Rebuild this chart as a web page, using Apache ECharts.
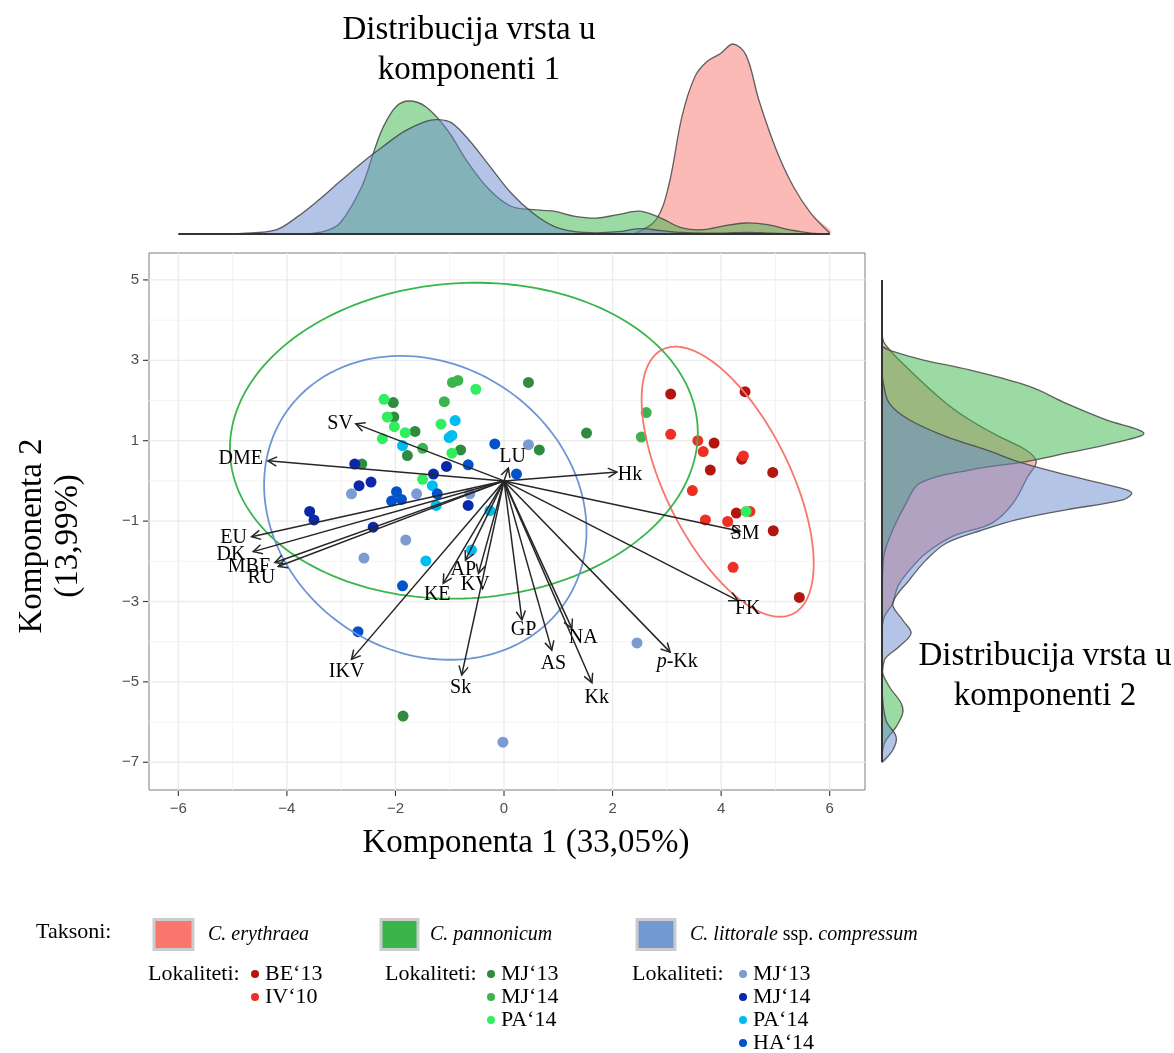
<!DOCTYPE html>
<html><head><meta charset="utf-8">
<script src="https://cdn.jsdelivr.net/npm/echarts@6/dist/echarts.min.js"></script>
<style>html,body{margin:0;padding:0;background:#fff}#c{width:1174px;height:1053px}</style>
</head><body><div id="c"></div>
<script>
// ---------- DATA ----------
const xTicks = [-6, -4, -2, 0, 2, 4, 6];
const yTicks = [-7, -5, -3, -1, 1, 3, 5];
const xMinor = [-5, -3, -1, 1, 3, 5];
const yMinor = [-6, -4, -2, 0, 2, 4];

// C. erythraea
const ceBE13 = [[3.07,2.16],[4.44,2.22],[3.87,0.94],[4.38,0.54],[3.80,0.27],[4.95,0.21],[4.28,-0.80],[4.96,-1.24],[5.44,-2.90]];
const ceIV10 = [[3.07,1.16],[3.57,1.00],[3.67,0.73],[4.41,0.62],[3.47,-0.24],[4.53,-0.76],[3.71,-0.97],[4.12,-1.01],[4.22,-2.15]];
// C. pannonicum
const cpMJ13 = [[0.45,2.45],[1.52,1.19],[0.65,0.77],[-2.04,1.95],[-2.03,1.59],[-1.64,1.23],[-1.78,0.63],[-0.80,0.77],[-2.62,0.42],[-1.86,-5.85]];
const cpMJ14 = [[-0.95,2.45],[-0.85,2.50],[2.62,1.70],[2.53,1.09],[-1.50,0.81],[-1.10,1.97]];
const cpPA14 = [[-0.52,2.28],[-2.21,2.03],[-2.15,1.59],[-2.02,1.35],[-1.82,1.20],[-1.16,1.41],[-2.24,1.05],[-0.96,0.69],[-1.50,0.04],[4.46,-0.76]];
// C. littorale ssp. compressum
const clMJ13 = [[0.45,0.90],[-2.81,-0.32],[-1.61,-0.32],[-0.63,-0.32],[-1.81,-1.47],[-2.58,-1.92],[2.45,-4.03],[-0.02,-6.50]];
const clMJ14 = [[-2.75,0.42],[-1.06,0.36],[-1.30,0.17],[-2.67,-0.12],[-2.45,-0.03],[-0.66,-0.61],[-3.58,-0.76],[-3.50,-0.97],[-2.41,-1.15]];
const clPA14 = [[-0.90,1.50],[-1.01,1.08],[-0.96,1.13],[-1.87,0.88],[-1.32,-0.12],[-1.25,-0.61],[-0.26,-0.74],[-1.44,-1.99],[-0.60,-1.72]];
const clHA14 = [[-0.17,0.92],[0.23,0.17],[-0.66,0.40],[-1.98,-0.27],[-2.07,-0.50],[-1.89,-0.46],[-1.23,-0.32],[-1.87,-2.61],[-2.69,-3.75]];

// loadings (arrows)
const varNames = ['SV','DME','LU','Hk','SM','FK','EU','DK','MBF','RU','AP','KV','KE','IKV','Sk','GP','AS','NA','Kk','p-Kk'];
const varX = [-2.73,-4.35,0.08,2.08,4.35,4.31,-4.65,-4.62,-4.22,-4.16,-0.71,-0.47,-1.12,-2.81,-0.78,0.33,0.88,1.25,1.62,3.06];
const varY = [1.42,0.50,0.32,0.22,-1.25,-2.98,-1.39,-1.76,-2.03,-2.13,-1.97,-2.30,-2.55,-4.44,-4.83,-3.46,-4.21,-3.67,-5.02,-4.26];
const labelX = [-3.02,-4.85,0.16,2.32,4.44,4.49,-4.98,-5.03,-4.70,-4.47,-0.75,-0.53,-1.23,-2.90,-0.80,0.36,0.91,1.46,1.71,3.19];
const labelY = [1.42,0.54,0.61,0.15,-1.32,-3.19,-1.42,-1.84,-2.13,-2.40,-2.22,-2.59,-2.84,-4.75,-5.15,-3.71,-4.54,-3.90,-5.39,-4.51];

// ellipses: erythraea, pannonicum, littorale
const ellCX = [4.12, -0.74, -1.45];
const ellCY = [-0.02, 1.00, -0.67];
const ellRX = [1.585, 4.31, 2.97];
const ellRY = [3.36, 3.93, 3.78];
const ellRho = [-0.607, 0.05, -0.151];

// densities along component 1: [x, relative density]
const densTopRed = [[2.40,0],[2.80,0.075],[3.03,0.25],[3.28,0.62],[3.52,0.83],[3.75,0.91],[3.99,0.95],[4.22,1.0],[4.46,0.94],[4.70,0.70],[5.02,0.44],[5.33,0.25],[5.65,0.11],[6.00,0.005]];
const densTopGreen = [[-3.70,0],[-3.30,0.015],[-3.02,0.058],[-2.62,0.25],[-2.39,0.44],[-2.23,0.56],[-1.99,0.67],[-1.75,0.70],[-1.44,0.67],[-1.05,0.55],[-0.65,0.37],[-0.26,0.23],[0.13,0.146],[0.53,0.128],[0.92,0.12],[1.31,0.093],[1.71,0.084],[2.10,0.102],[2.50,0.12],[2.89,0.084],[3.28,0.032],[3.68,0.023],[4.07,0.044],[4.46,0.058],[4.86,0.049],[5.25,0.023],[5.65,0.005],[6.00,0]];
const densTopBlue = [[-5.20,0],[-4.83,0.003],[-4.20,0.022],[-3.81,0.09],[-3.41,0.18],[-3.02,0.277],[-2.62,0.374],[-2.23,0.46],[-1.84,0.54],[-1.44,0.593],[-1.21,0.602],[-0.97,0.586],[-0.65,0.496],[-0.26,0.356],[0.13,0.216],[0.53,0.11],[0.92,0.04],[1.31,0.012],[1.71,0.006],[2.10,0.012],[2.50,0.028],[2.89,0.018],[3.28,0.008],[3.68,0.004],[4.07,0.005],[4.46,0.009],[4.86,0.005],[5.25,0.002],[6.00,0]];
// densities along component 2: [y, relative density]
const densRightRed = [[3.76,0],[3.43,0.009],[2.76,0.105],[1.93,0.245],[1.52,0.334],[1.10,0.448],[0.77,0.55],[0.48,0.589],[0.11,0.557],[-0.56,0.50],[-1.05,0.42],[-1.38,0.27],[-1.80,0.168],[-2.22,0.105],[-2.63,0.06],[-3.05,0.041],[-3.38,0.009],[-3.71,0]];
const densRightGreen = [[3.34,0],[3.22,0.041],[3.01,0.155],[2.76,0.334],[2.35,0.563],[1.93,0.703],[1.52,0.856],[1.19,1.0],[0.94,0.882],[0.69,0.703],[0.48,0.55],[0.27,0.334],[-0.06,0.143],[-0.56,0.092],[-1.22,0.041],[-1.80,0.009],[-2.22,0.003],[-3.05,0],[-4.70,0],[-5.12,0.028],[-5.53,0.073],[-5.78,0.079],[-6.12,0.054],[-6.53,0.009],[-6.99,0]];
const densRightBlue = [[2.76,0],[2.43,0.005],[1.93,0.028],[1.52,0.104],[1.10,0.245],[0.77,0.398],[0.44,0.538],[0.11,0.728],[-0.22,0.932],[-0.31,0.954],[-0.47,0.92],[-0.72,0.703],[-0.97,0.512],[-1.22,0.385],[-1.55,0.245],[-1.97,0.168],[-2.46,0.105],[-3.05,0.041],[-3.46,0.079],[-3.79,0.111],[-4.12,0.066],[-4.46,0.009],[-5.12,0],[-5.95,0.015],[-6.37,0.054],[-6.70,0.041],[-6.99,0]];

// ---------- STYLE ----------
const SERIF = '"Liberation Serif","DejaVu Serif",serif';
const SANS = '"Liberation Sans",Arial,sans-serif';
const cRed = '#F8766D', cGreen = '#39B54A', cBlue = '#7399D3';
const ellColors = ['#F8766D', '#39B54A', '#6F95D5'];
const fmt = v => (v < 0 ? '\u2212' + Math.abs(v) : String(v));

const chart = echarts.init(document.getElementById('c'), null, {renderer: 'canvas'});

function scatterSeries(name, data, color) {
  return {type: 'scatter', name, data, xAxisIndex: 0, yAxisIndex: 0, symbolSize: 11,
    itemStyle: {color, opacity: 1}, z: 3, silent: true};
}

function densTop(pairs, fill) {
  return {type: 'custom', xAxisIndex: 1, yAxisIndex: 1, data: [0], z: 2, silent: true,
    renderItem: (params, api) => {
      const pts = pairs.map(p => api.coord([p[0], p[1]]));
      const base = api.coord([0, 0])[1];
      const cons = [[-1e5, -1e5], [1e5, base]];
      return {type: 'group', children: [
        {type: 'polygon', shape: {points: pts, smooth: 0.35, smoothConstraint: cons}, style: {fill, stroke: null}},
        {type: 'polyline', shape: {points: pts, smooth: 0.35, smoothConstraint: cons}, style: {stroke: 'rgba(70,70,70,0.85)', lineWidth: 1.3, fill: null}}
      ]};
    }};
}
function densRight(pairs, fill) {
  return {type: 'custom', xAxisIndex: 2, yAxisIndex: 2, data: [0], z: 2, silent: true,
    renderItem: (params, api) => {
      const pts = pairs.map(p => api.coord([p[1], p[0]]));
      const base = api.coord([0, 0])[0];
      const cons = [[base, -1e5], [1e5, 1e5]];
      return {type: 'group', children: [
        {type: 'polygon', shape: {points: pts, smooth: 0.35, smoothConstraint: cons}, style: {fill, stroke: null}},
        {type: 'polyline', shape: {points: pts, smooth: 0.35, smoothConstraint: cons}, style: {stroke: 'rgba(70,70,70,0.85)', lineWidth: 1.3, fill: null}}
      ]};
    }};
}

const gridSeries = {type: 'custom', xAxisIndex: 0, yAxisIndex: 0, data: [0], z: 1, silent: true, clip: false,
  renderItem: (params, api) => {
    const ch = [];
    const x0 = -6.54, x1 = 6.65, y0 = -7.69, y1 = 5.67;
    const line = (a, b, col, w) => ch.push({type: 'line', shape: {x1: a[0], y1: a[1], x2: b[0], y2: b[1]}, style: {stroke: col, lineWidth: w}});
    xMinor.forEach(v => line(api.coord([v, y0]), api.coord([v, y1]), '#F4F4F4', 1));
    yMinor.forEach(v => line(api.coord([x0, v]), api.coord([x1, v]), '#F4F4F4', 1));
    xTicks.forEach(v => line(api.coord([v, y0]), api.coord([v, y1]), '#EBEBEB', 1.3));
    yTicks.forEach(v => line(api.coord([x0, v]), api.coord([x1, v]), '#EBEBEB', 1.3));
    // outside tick marks
    xTicks.forEach(v => { const p = api.coord([v, y0]); line([p[0], p[1] + 1], [p[0], p[1] + 6], '#333', 1.1); });
    yTicks.forEach(v => { const p = api.coord([x0, v]); line([p[0] - 1, p[1]], [p[0] - 6, p[1]], '#333', 1.1); });
    return {type: 'group', children: ch};
  }};

const ellipseSeries = {type: 'custom', xAxisIndex: 0, yAxisIndex: 0, data: [0, 1, 2], z: 4, silent: true,
  renderItem: (params, api) => {
    const i = params.dataIndex;
    const pts = [];
    const s = Math.sqrt(1 - ellRho[i] * ellRho[i]);
    for (let k = 0; k <= 180; k++) {
      const t = k / 180 * Math.PI * 2;
      const x = ellCX[i] + ellRX[i] * Math.cos(t);
      const y = ellCY[i] + ellRY[i] * (ellRho[i] * Math.cos(t) + s * Math.sin(t));
      pts.push(api.coord([x, y]));
    }
    return {type: 'polyline', shape: {points: pts}, style: {stroke: ellColors[i], lineWidth: 1.8, fill: null}};
  }};

const arrowSeries = {type: 'custom', xAxisIndex: 0, yAxisIndex: 0, data: varNames.map((n, i) => i), z: 5, silent: true,
  renderItem: (params, api) => {
    const i = params.dataIndex;
    const o = api.coord([0, 0]);
    const t = api.coord([varX[i], varY[i]]);
    const ang = Math.atan2(t[1] - o[1], t[0] - o[0]);
    const L = 10, a = Math.PI / 6.5;
    const h1 = [t[0] - L * Math.cos(ang - a), t[1] - L * Math.sin(ang - a)];
    const h2 = [t[0] - L * Math.cos(ang + a), t[1] - L * Math.sin(ang + a)];
    const lp = api.coord([labelX[i], labelY[i]]);
    const name = varNames[i];
    const txt = name === 'p-Kk' ? '{i|p}-Kk' : name;
    return {type: 'group', children: [
      {type: 'line', shape: {x1: o[0], y1: o[1], x2: t[0], y2: t[1]}, style: {stroke: '#262626', lineWidth: 1.5}},
      {type: 'polyline', shape: {points: [h1, t, h2]}, style: {stroke: '#262626', lineWidth: 1.5, fill: null}},
      {type: 'text', x: lp[0], y: lp[1], style: {text: txt, fill: '#000', font: '20px ' + SERIF, align: 'center', verticalAlign: 'middle',
        rich: {i: {fontStyle: 'italic', fontSize: 20, fontFamily: SERIF}}}}
    ]};
  }};

const axisLineSeries = [
  {type: 'custom', xAxisIndex: 1, yAxisIndex: 1, data: [0], z: 3, silent: true,
    renderItem: (p, api) => {
      const a = api.coord([-6, 0]), b = api.coord([6, 0]);
      return {type: 'line', shape: {x1: a[0], y1: a[1], x2: b[0], y2: b[1]}, style: {stroke: '#333', lineWidth: 2}};
    }},
  {type: 'custom', xAxisIndex: 2, yAxisIndex: 2, data: [0], z: 3, silent: true,
    renderItem: (p, api) => {
      const a = api.coord([0, -7]), b = api.coord([0, 5]);
      return {type: 'line', shape: {x1: a[0], y1: a[1], x2: b[0], y2: b[1]}, style: {stroke: '#333', lineWidth: 2}};
    }}
];

const titleFont = '33px ' + SERIF;
const legTitle = '22px ' + SERIF;
const legItem = '22px ' + SERIF;
const txt = (x, y, text, font, extra) => Object.assign({type: 'text', x, y, style: {text, font, fill: '#000', verticalAlign: 'middle'}}, extra || {});
const graphics = [
  {type: 'text', x: 469, y: 30, style: {text: 'Distribucija vrsta u', font: titleFont, fill: '#000', align: 'center', verticalAlign: 'middle'}},
  {type: 'text', x: 469, y: 70, style: {text: 'komponenti 1', font: titleFont, fill: '#000', align: 'center', verticalAlign: 'middle'}},
  {type: 'text', x: 1045, y: 656, style: {text: 'Distribucija vrsta u', font: titleFont, fill: '#000', align: 'center', verticalAlign: 'middle'}},
  {type: 'text', x: 1045, y: 696, style: {text: 'komponenti 2', font: titleFont, fill: '#000', align: 'center', verticalAlign: 'middle'}},
  {type: 'text', x: 526, y: 843, style: {text: 'Komponenta 1 (33,05%)', font: titleFont, fill: '#000', align: 'center', verticalAlign: 'middle'}},
  {type: 'text', x: 32, y: 536, rotation: Math.PI / 2, style: {text: 'Komponenta 2', font: titleFont, fill: '#000', align: 'center', verticalAlign: 'middle'}},
  {type: 'text', x: 68, y: 536, rotation: Math.PI / 2, style: {text: '(13,99%)', font: titleFont, fill: '#000', align: 'center', verticalAlign: 'middle'}},
  // legend: taxa
  txt(36, 932, 'Taksoni:', legTitle),
  {type: 'rect', shape: {x: 154, y: 919.5, width: 39, height: 30}, style: {fill: cRed, stroke: '#cccccc', lineWidth: 3}},
  txt(208, 935, 'C. erythraea', 'italic 20px ' + SERIF),
  {type: 'rect', shape: {x: 381, y: 919.5, width: 37, height: 30}, style: {fill: cGreen, stroke: '#cccccc', lineWidth: 3}},
  txt(430, 935, 'C. pannonicum', 'italic 20px ' + SERIF),
  {type: 'rect', shape: {x: 637, y: 919.5, width: 38, height: 30}, style: {fill: cBlue, stroke: '#cccccc', lineWidth: 3}},
  {type: 'text', x: 690, y: 935, style: {text: '{i|C. littorale} ssp. {i|compressum}', font: '20px ' + SERIF, fill: '#000', verticalAlign: 'middle',
    rich: {i: {fontStyle: 'italic', fontSize: 20, fontFamily: SERIF}}}},
  // legend: localities
  txt(148, 974, 'Lokaliteti:', legTitle),
  {type: 'circle', shape: {cx: 255, cy: 974, r: 4}, style: {fill: '#B2160F'}},
  txt(265, 974, 'BE\u201813', legItem),
  {type: 'circle', shape: {cx: 255, cy: 997, r: 4}, style: {fill: '#EE3024'}},
  txt(265, 997, 'IV\u201810', legItem),
  txt(385, 974, 'Lokaliteti:', legTitle),
  {type: 'circle', shape: {cx: 491, cy: 974, r: 4}, style: {fill: '#2E8B40'}},
  txt(501, 974, 'MJ\u201813', legItem),
  {type: 'circle', shape: {cx: 491, cy: 997, r: 4}, style: {fill: '#3CB44E'}},
  txt(501, 997, 'MJ\u201814', legItem),
  {type: 'circle', shape: {cx: 491, cy: 1020, r: 4}, style: {fill: '#30EE60'}},
  txt(501, 1020, 'PA\u201814', legItem),
  txt(632, 974, 'Lokaliteti:', legTitle),
  {type: 'circle', shape: {cx: 743, cy: 974, r: 4}, style: {fill: '#7B9BD2'}},
  txt(753, 974, 'MJ\u201813', legItem),
  {type: 'circle', shape: {cx: 743, cy: 997, r: 4}, style: {fill: '#0A28A8'}},
  txt(753, 997, 'MJ\u201814', legItem),
  {type: 'circle', shape: {cx: 743, cy: 1020, r: 4}, style: {fill: '#00BDF0'}},
  txt(753, 1020, 'PA\u201814', legItem),
  {type: 'circle', shape: {cx: 743, cy: 1043, r: 4}, style: {fill: '#0252CC'}},
  txt(753, 1043, 'HA\u201814', legItem)
];

const option = {
  animation: false,
  backgroundColor: '#fff',
  grid: [
    {left: 149, top: 253, width: 716, height: 537, show: true, borderColor: '#7f7f7f', borderWidth: 1, backgroundColor: 'transparent'},
    {left: 149, top: 40, width: 716, height: 194, show: false},
    {left: 882, top: 253, width: 292, height: 537, show: false}
  ],
  xAxis: [
    {gridIndex: 0, type: 'value', min: -6.54, max: 6.65, position: 'bottom', axisLine: {show: false, onZero: false}, splitLine: {show: false},
      axisTick: {show: false},
      axisLabel: {customValues: xTicks, formatter: fmt, fontSize: 15, color: '#4d4d4d', fontFamily: SANS, margin: 11}},
    {gridIndex: 1, type: 'value', min: -6.54, max: 6.65, show: false},
    {gridIndex: 2, type: 'value', min: 0, max: 1.115, show: false}
  ],
  yAxis: [
    {gridIndex: 0, type: 'value', min: -7.69, max: 5.67, position: 'left', axisLine: {show: false, onZero: false}, splitLine: {show: false},
      axisTick: {show: false},
      axisLabel: {customValues: yTicks, formatter: fmt, fontSize: 15, color: '#4d4d4d', fontFamily: SANS, margin: 10}},
    {gridIndex: 1, type: 'value', min: 0, max: 1.021, show: false},
    {gridIndex: 2, type: 'value', min: -7.69, max: 5.67, show: false}
  ],
  graphic: graphics,
  series: [
    gridSeries,
    densTop(densTopRed, 'rgba(248,118,109,0.5)'),
    densTop(densTopGreen, 'rgba(57,181,74,0.5)'),
    densTop(densTopBlue, 'rgba(105,137,205,0.5)'),
    densRight(densRightRed, 'rgba(248,118,109,0.5)'),
    densRight(densRightGreen, 'rgba(57,181,74,0.5)'),
    densRight(densRightBlue, 'rgba(105,137,205,0.5)'),
    ...axisLineSeries,
    scatterSeries('BE\u201813', ceBE13, '#B2160F'),
    scatterSeries('IV\u201810', ceIV10, '#EE3024'),
    scatterSeries('MJ\u201813 p', cpMJ13, '#2E8B40'),
    scatterSeries('MJ\u201814 p', cpMJ14, '#3CB44E'),
    scatterSeries('PA\u201814 p', cpPA14, '#30EE60'),
    scatterSeries('MJ\u201813 l', clMJ13, '#7B9BD2'),
    scatterSeries('MJ\u201814 l', clMJ14, '#0A28A8'),
    scatterSeries('PA\u201814 l', clPA14, '#00BDF0'),
    scatterSeries('HA\u201814 l', clHA14, '#0252CC'),
    ellipseSeries,
    arrowSeries
  ]
};
chart.setOption(option);
</script>
</body></html>
